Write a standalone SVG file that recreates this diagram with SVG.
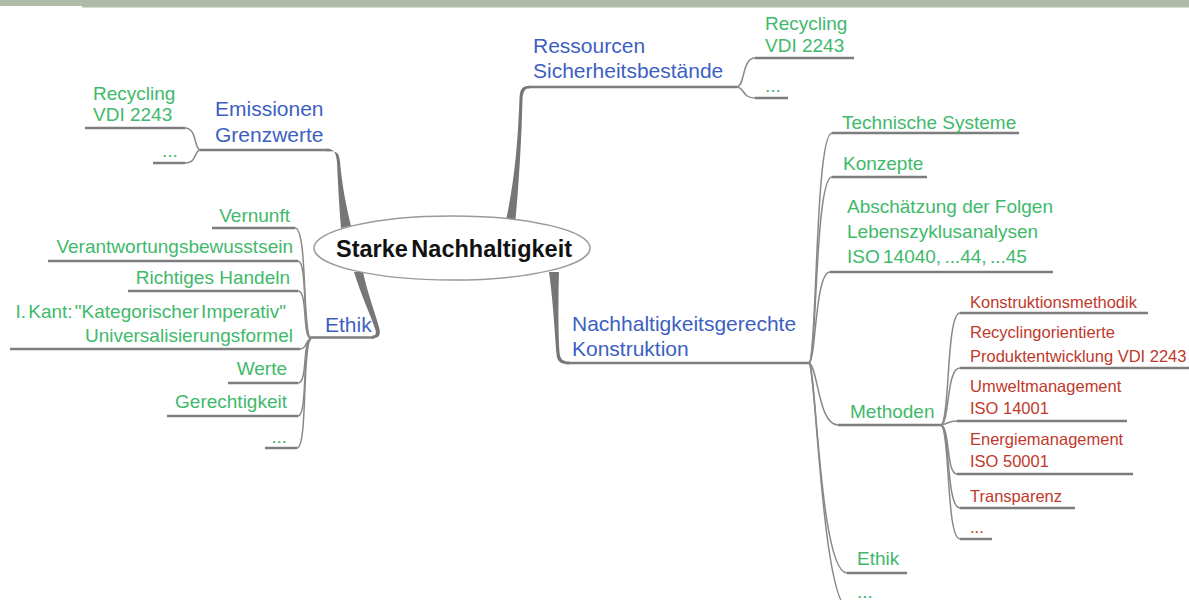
<svg xmlns="http://www.w3.org/2000/svg" width="1189" height="600" viewBox="0 0 1189 600">
<style>
text{font-family:"Liberation Sans",Arial,sans-serif}
.b{fill:#3d5fc2;font-size:21px}
.g{fill:#3fb96b;font-size:19px}
.r{fill:#c0392b;font-size:16.5px}
.e{text-anchor:end}
.br{fill:#767676}
.ul{fill:none;stroke:#7d7d7d;stroke-width:2.5}
.c{fill:none;stroke:#888;stroke-width:1.5}
</style>
<rect x="0" y="0" width="1189" height="600" fill="#fff"/>
<rect x="0" y="0" width="82" height="6" fill="#b0bca8"/>
<rect x="82" y="0" width="1107" height="7.5" fill="#b0bca8"/>
<g id="connectors">
<path class="br" d="M326 148.7 C334 148.7 336 152 337 162 C338 185 339 205 341 228 L351 226 C346 205 342 185 340 162 C339 151 336 151.3 326 151.3 Z"/>
<path class="br" d="M530 85.7 C522 85.7 520 89 519.5 98 C518 140 515 180 505 225 L515 226 C519 182 521.5 140 522.5 100 C523 91 525 88.3 530 88.3 Z"/>
<path class="br" d="M354 272 L363 272 C368 295 376 315 379.5 329 C381 336 378 338.3 372 338.3 L372 335.7 C375.5 335.7 376.5 334 375.5 330 C371 316 361 295 354 272 Z"/>
<path class="br" d="M549 272 L559 272 C558 305 558.5 335 559.5 352 C560 359.5 563 361.7 570 361.7 L570 364.3 C561 364.3 557 362 556.5 354 C555 335 553 300 549 272 Z"/>
<path class="ul" d="M200 150 H330"/>
<path class="ul" d="M528 87 H737"/>
<path class="ul" d="M310 337.5 H374"/>
<path class="ul" d="M566 363 H809"/>
<path class="c" d="M200 150 C194 149 197 128 185 128"/>
<path class="ul" d="M185 128 H85"/>
<path class="c" d="M200 150 C194 151 197 163 185 163"/>
<path class="ul" d="M185 163 H153"/>
<path class="c" d="M737 87 C745 86 742 58 755 58"/>
<path class="ul" d="M755 58 H854"/>
<path class="c" d="M737 87 C745 88 742 98 755 98"/>
<path class="ul" d="M755 98 H788"/>
<path class="c" d="M311 339 C302 337 308 228 295 228"/>
<path class="ul" d="M295 228 H212"/>
<path class="c" d="M311 339 C302 337 308 261 298 261"/>
<path class="ul" d="M298 261 H48"/>
<path class="c" d="M311 339 C302 337 308 291 298 291"/>
<path class="ul" d="M298 291 H128"/>
<path class="c" d="M311 339 C305 340 307 349 300 349"/>
<path class="ul" d="M300 349 H10"/>
<path class="c" d="M311 339 C302 341 308 383 298 383"/>
<path class="ul" d="M298 383 H228"/>
<path class="c" d="M311 339 C302 341 308 416 298 416"/>
<path class="ul" d="M298 416 H167"/>
<path class="c" d="M311 339 C302 341 308 448 297 448"/>
<path class="ul" d="M297 448 H265"/>
<path class="c" d="M809 363 C817 361 815 133 832 133"/>
<path class="ul" d="M832 133 H1019"/>
<path class="c" d="M809 363 C817 361 815 177 832 177"/>
<path class="ul" d="M832 177 H927"/>
<path class="c" d="M809 363 C816 361 815 272 830 272"/>
<path class="ul" d="M830 272 H1053"/>
<path class="c" d="M809 363 C818 366 818 425 838 425"/>
<path class="ul" d="M838 425 H941"/>
<path class="c" d="M809 363 C816 366 820 573 847 573"/>
<path class="ul" d="M847 573 H907"/>
<path class="c" d="M809 363 C816 366 822 610 850 610"/>
<path class="c" d="M941 425 C950 423 946 313 960 313"/>
<path class="ul" d="M960 313 H1148"/>
<path class="c" d="M941 425 C950 423 946 368 960 368"/>
<path class="ul" d="M960 368 H1189"/>
<path class="c" d="M941 425 C948 424 948 421 957 421"/>
<path class="ul" d="M957 421 H1127"/>
<path class="c" d="M941 425 C950 427 946 474 957 474"/>
<path class="ul" d="M957 474 H1133"/>
<path class="c" d="M941 425 C950 427 946 508 960 508"/>
<path class="ul" d="M960 508 H1075"/>
<path class="c" d="M941 425 C950 427 946 539 960 539"/>
<path class="ul" d="M960 539 H992"/>
</g>
<g id="center">
<ellipse cx="452" cy="248" rx="138" ry="32" fill="#fff" stroke="#9a9a9a" stroke-width="1.5"/>
<text x="454" y="257" text-anchor="middle" font-size="23.5" font-weight="bold" word-spacing="-3" fill="#111">Starke Nachhaltigkeit</text>
</g>
<g id="emissionen"><text class="b" x="215" y="116">Emissionen</text><text class="b" x="215" y="142">Grenzwerte</text></g>
<g id="em-recycling"><text class="g" x="93" y="100">Recycling</text><text class="g" x="93" y="121">VDI 2243</text></g>
<g id="em-more"><text class="g" x="162" y="157">...</text></g>
<g id="ressourcen"><text class="b" x="533" y="53">Ressourcen</text><text class="b" x="533" y="78">Sicherheitsbestände</text></g>
<g id="res-recycling"><text class="g" x="765" y="30">Recycling</text><text class="g" x="765" y="52">VDI 2243</text></g>
<g id="res-more"><text class="g" x="765" y="92">...</text></g>
<g id="ethik-left"><text class="b" x="325" y="332">Ethik</text></g>
<g id="vernunft"><text class="g e" x="290" y="222">Vernunft</text></g>
<g id="verantwortung"><text class="g e" x="293" y="253">Verantwortungsbewusstsein</text></g>
<g id="handeln"><text class="g e" x="290" y="284">Richtiges Handeln</text></g>
<g id="kant"><text class="g e" x="286" y="318" word-spacing="-3">I. Kant: "Kategorischer Imperativ"</text><text class="g e" x="293" y="342">Universalisierungsformel</text></g>
<g id="werte"><text class="g e" x="287" y="375">Werte</text></g>
<g id="gerechtigkeit"><text class="g e" x="287" y="408">Gerechtigkeit</text></g>
<g id="ethik-more"><text class="g e" x="287" y="443">...</text></g>
<g id="konstruktion"><text class="b" x="572" y="331">Nachhaltigkeitsgerechte</text><text class="b" x="572" y="356">Konstruktion</text></g>
<g id="technische"><text class="g" x="842" y="129">Technische Systeme</text></g>
<g id="konzepte"><text class="g" x="843" y="170">Konzepte</text></g>
<g id="folgen"><text class="g" x="847" y="213">Abschätzung der Folgen</text><text class="g" x="847" y="238">Lebenszyklusanalysen</text><text class="g" x="847" y="263" word-spacing="-2">ISO 14040, ...44, ...45</text></g>
<g id="methoden"><text class="g" x="850" y="418">Methoden</text></g>
<g id="ethik-right"><text class="g" x="857" y="565">Ethik</text></g>
<g id="right-more"><text class="g" x="857" y="598">...</text></g>
<g id="km"><text class="r" x="970" y="308">Konstruktionsmethodik</text></g>
<g id="rp"><text class="r" x="970" y="338">Recyclingorientierte</text><text class="r" x="970" y="362">Produktentwicklung VDI 2243</text></g>
<g id="um"><text class="r" x="970" y="392">Umweltmanagement</text><text class="r" x="970" y="414">ISO 14001</text></g>
<g id="em"><text class="r" x="970" y="445">Energiemanagement</text><text class="r" x="970" y="467">ISO 50001</text></g>
<g id="tr"><text class="r" x="970" y="502">Transparenz</text></g>
<g id="red-more"><text class="r" x="970" y="533">...</text></g>
</svg>
